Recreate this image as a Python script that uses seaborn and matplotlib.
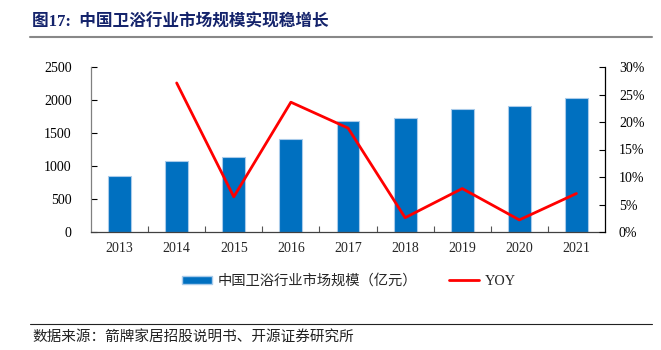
import numpy as np
import pandas as pd
import matplotlib
matplotlib.use("Agg")
import matplotlib.pyplot as plt
import seaborn as sns
from matplotlib.patches import Patch
from matplotlib.lines import Line2D
from matplotlib.ticker import FuncFormatter, FixedLocator

years = ["2013", "2014", "2015", "2016", "2017", "2018", "2019", "2020", "2021"]
market_size = [843, 1076, 1141, 1414, 1682, 1727, 1864, 1904, 2035]
yoy = [np.nan, 27.1, 6.4, 23.6, 18.9, 2.6, 7.9, 2.2, 7.0]
left_ticks = [0, 500, 1000, 1500, 2000, 2500]
right_ticks = [0, 5, 10, 15, 20, 25, 30]
title = "图17:  中国卫浴行业市场规模实现稳增长"
bar_label = "中国卫浴行业市场规模（亿元）"
line_label = "YOY"
source = "数据来源：箭牌家居招股说明书、开源证券研究所"

sns.set_theme(style="white")
plt.rcParams['font.family'] = ['Liberation Serif', 'Noto Sans CJK SC', 'DejaVu Sans']

df = pd.DataFrame({"year": years, "size": market_size, "yoy": yoy})

fig = plt.figure(figsize=(6.61, 3.5), dpi=100)
ax = fig.add_axes([91/661, 1-232/350, (605-91)/661, (232-67)/350])

sns.barplot(data=df, x="year", y="size", ax=ax, color="#0070C0", width=0.4,
            edgecolor="#a9cbea", linewidth=0.8, saturation=1)
ax2 = ax.twinx()
sns.lineplot(data=df.dropna(), x="year", y="yoy", ax=ax2, color="#FF0000",
             linewidth=2.0, sort=False)

ax.set_xlim(-0.5, len(years) - 0.5)
ax.set_ylim(0, 2500)
ax.set_yticks(left_ticks)
ax2.set_ylim(0, 30)
ax2.set_yticks(right_ticks)
ax2.yaxis.set_major_formatter(FuncFormatter(lambda v, p: f"{int(v)}%"))

ax.set_xlabel("")
ax.set_ylabel("")
ax2.set_xlabel("")
ax2.set_ylabel("")

tick_font = 10
ax.tick_params(axis='y', direction='in', length=4, width=0.8, colors='#000000',
               labelsize=tick_font, pad=14, left=True)
ax2.tick_params(axis='y', direction='in', length=4, width=0.8, colors='#000000',
                labelsize=tick_font, pad=10, right=True)
ax.tick_params(axis='x', which='major', length=0, labelsize=tick_font, pad=7)
ax.xaxis.set_minor_locator(FixedLocator([i + 0.5 for i in range(len(years) - 1)]))
ax.tick_params(axis='x', which='minor', direction='in', length=4, width=0.8,
               color='#555555', bottom=True)

for a in (ax, ax2):
    a.spines['top'].set_visible(False)
    a.grid(False)
ax.spines['left'].set_color('#808080')
ax.spines['bottom'].set_color('#404040')
ax2.spines['right'].set_color('#000000')
ax2.spines['left'].set_visible(False)
ax2.spines['bottom'].set_visible(False)
for s in ('left', 'bottom'):
    ax.spines[s].set_linewidth(0.9)
ax2.spines['right'].set_linewidth(0.9)
ax.spines['right'].set_visible(False)

handles = [Patch(facecolor="#0070C0", edgecolor="#a9cbea", label=bar_label),
           Line2D([0], [0], color="#FF0000", linewidth=2, label=line_label)]
fig.legend(handles=handles, loc='center', bbox_to_anchor=(349/661, 1-281/350), ncol=2,
           frameon=False, handlelength=2.1, handleheight=0.5,
           columnspacing=2.2, handletextpad=0.4,
           prop={'family': ['Liberation Serif', 'Noto Sans CJK SC'], 'size': 10.3})

fig.text(32/661, 1-22/350, title, fontsize=12, fontweight='bold', color='#14236b',
         va='center', ha='left', family=['Liberation Serif', 'Noto Sans CJK SC', 'DejaVu Sans'])
fig.add_artist(Line2D([30/661, 652/661], [1-37/350, 1-37/350], color='#888888', linewidth=1.5))
fig.add_artist(Line2D([30/661, 652/661], [1-324/350, 1-324/350], color='#222222', linewidth=0.8))
fig.text(32/661, 1-338/350, source, fontsize=10.5, color='#222222', va='center', ha='left',
         family=['Noto Sans CJK SC', 'DejaVu Sans'])

fig.savefig("out.png", dpi=100)
